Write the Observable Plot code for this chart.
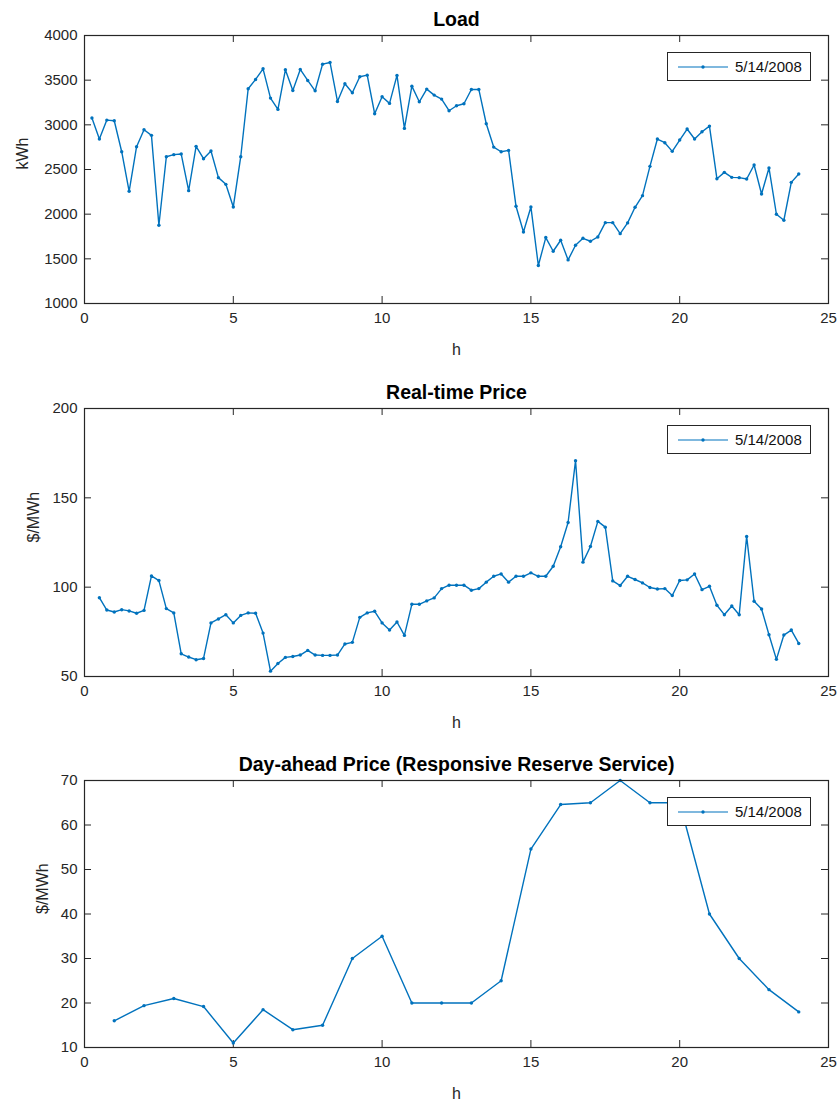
<!DOCTYPE html>
<html>
<head>
<meta charset="utf-8">
<script src="https://cdn.jsdelivr.net/npm/d3@7"></script>
<script src="https://cdn.jsdelivr.net/npm/@observablehq/plot@0.6"></script>
<style>
  body { margin: 0; background: #fff; font-family: "Liberation Sans", Arial, Helvetica, sans-serif; }
  #wrap { width: 838px; }
  .panel { position: relative; width: 838px; }
  .panel svg { display: block; }
  .legend {
    position: absolute; box-sizing: border-box; background: #fff;
    border: 1px solid #262626; width: 144px; height: 29px;
    display: flex; align-items: center; font-size: 15px; color: #111;
  }
  .legend svg { display: block; margin: 0 6px 0 9px; }
</style>
</head>
<body>
<div id="wrap"></div>
<script>
// Day: 5/14/2008
const legendLabel = "5/14/2008";

// Load, 15-minute samples from 0.25 h to 24 h (kWh)
const loadHours = d3.range(1, 97).map(i => i / 4);
const loadValues = [
  3076, 2841, 3053, 3046, 2699, 2256, 2755, 2945, 2882, 1876,
  2643, 2666, 2673, 2263, 2759, 2621, 2707, 2409, 2334, 2081,
  2643, 3404, 3508, 3627, 3299, 3173, 3616, 3385, 3620, 3497,
  3381, 3679, 3698, 3262, 3460, 3359, 3538, 3556, 3124, 3314,
  3240, 3553, 2960, 3433, 3258, 3400, 3333, 3288, 3158, 3214,
  3236, 3396, 3396, 3012, 2751, 2699, 2714, 2088, 1801, 2081,
  1425, 1738, 1585, 1708, 1488, 1652, 1730, 1697, 1745, 1905,
  1905, 1782, 1902, 2077, 2207, 2535, 2841, 2800, 2703, 2830,
  2953, 2841, 2923, 2986, 2397, 2468, 2412, 2409, 2394, 2550,
  2226, 2517, 1999, 1932, 2356, 2450
];

// Real-time price, 15-minute samples from 0.5 h to 24 h ($/MWh)
const rtHours = d3.range(2, 97).map(i => i / 4);
const rtValues = [
  94.1, 87.2, 86.1, 87.4, 86.7, 85.4, 87.0, 106.3, 103.7, 88.0,
  85.6, 62.7, 60.9, 59.4, 60.1, 80.0, 82.2, 84.6, 80.0, 84.2,
  85.6, 85.4, 74.3, 53.0, 57.3, 60.7, 61.2, 62.0, 64.6, 62.0,
  61.8, 61.8, 62.0, 68.2, 69.1, 83.1, 85.6, 86.5, 80.0, 76.0,
  80.5, 73.0, 90.4, 90.4, 92.3, 94.0, 99.2, 101.1, 101.1, 101.1,
  98.3, 99.2, 102.8, 106.1, 107.4, 102.8, 106.1, 106.1, 108.0, 106.1,
  106.1, 111.7, 122.6, 136.2, 170.8, 114.0, 122.8, 136.8, 133.6, 103.5,
  100.9, 106.1, 104.3, 102.4, 99.8, 99.0, 99.2, 95.3, 103.7, 104.1,
  107.4, 98.6, 100.5, 89.9, 84.6, 89.5, 84.6, 128.4, 92.1, 87.8,
  73.4, 59.6, 73.2, 76.0, 68.5
];

// Day-ahead price for Responsive Reserve Service, hourly ($/MWh)
const daHours = [1, 2, 3, 4, 5, 6, 7, 8, 9, 10, 11, 12, 13, 14, 15, 16, 17, 18, 19, 20, 21, 22, 23, 24];
const daValues = [16, 19.4, 21, 19.2, 11, 18.5, 14, 15, 30, 35, 20, 20, 20, 25, 54.6, 64.6, 65, 70, 65, 65, 40, 30, 23, 18];

// Tick values
const hourTicks = [0, 5, 10, 15, 20, 25];
const loadTicks = [1000, 1500, 2000, 2500, 3000, 3500, 4000];
const rtTicks = [50, 100, 150, 200];
const daTicks = [10, 20, 30, 40, 50, 60, 70];

const BLUE = "#0072BD";
const INK = "#262626";
const FONT = '"Liberation Sans", Arial, Helvetica, sans-serif';

function panel({title, ylabel, ylabelDx, xs, ys, yDomain, yTicks, height, marginTop, marginBottom}) {
  const W = 838, ml = 84, mr = 10, tick = 7;
  const fw = W - ml - mr, fh = height - marginTop - marginBottom;
  const data = xs.map((x, i) => ({x, y: ys[i]}));

  const svg = Plot.plot({
    width: W, height, marginLeft: ml, marginRight: mr, marginTop, marginBottom,
    style: {fontFamily: FONT, fontSize: "15px", color: INK, background: "#fff", overflow: "visible"},
    x: {domain: [0, 25], label: null},
    y: {domain: yDomain, label: null},
    marks: [
      Plot.axisX({ticks: hourTicks, tickFormat: d => String(d), tickSize: 0, tickPadding: 9, fontSize: 15, fill: INK}),
      Plot.axisY({ticks: yTicks, tickFormat: d => String(d), tickSize: 0, tickPadding: 7, fontSize: 15, fill: INK}),
      // inward tick marks on all four sides
      Plot.ruleX(hourTicks, {x: d => d, insetTop: fh - tick, stroke: INK, strokeWidth: 1}),
      Plot.ruleX(hourTicks, {x: d => d, insetBottom: fh - tick, stroke: INK, strokeWidth: 1}),
      Plot.ruleY(yTicks, {y: d => d, insetRight: fw - tick, stroke: INK, strokeWidth: 1}),
      Plot.ruleY(yTicks, {y: d => d, insetLeft: fw - tick, stroke: INK, strokeWidth: 1}),
      Plot.line(data, {x: "x", y: "y", stroke: BLUE, strokeWidth: 1.4}),
      Plot.dot(data, {x: "x", y: "y", r: 1.7, fill: BLUE, stroke: null}),
      Plot.frame({stroke: INK, strokeWidth: 1.2}),
      Plot.text([title], {text: d => d, frameAnchor: "top", lineAnchor: "middle", dy: -16, fontWeight: "bold", fontSize: 19.5, fill: "#000"}),
      Plot.text([ylabel], {text: d => d, frameAnchor: "left", dx: ylabelDx, rotate: -90, fontSize: 16, fill: INK}),
      Plot.text(["h"], {text: d => d, frameAnchor: "bottom", lineAnchor: "middle", dy: 46, fontSize: 16, fill: INK})
    ]
  });

  const div = document.createElement("div");
  div.className = "panel";
  div.style.height = height + "px";
  div.appendChild(svg);

  const legend = document.createElement("div");
  legend.className = "legend";
  legend.style.left = "667px";
  legend.style.top = (marginTop + 17) + "px";
  legend.innerHTML =
    `<svg width="52" height="10"><line x1="1" x2="51" y1="5" y2="5" stroke="${BLUE}" stroke-width="1.2"/>` +
    `<circle cx="26" cy="5" r="1.7" fill="${BLUE}"/></svg><span>${legendLabel}</span>`;
  div.appendChild(legend);
  return div;
}

const wrap = document.getElementById("wrap");
wrap.appendChild(panel({
  title: "Load", ylabel: "kWh", ylabelDx: -62,
  xs: loadHours, ys: loadValues, yDomain: [1000, 4000], yTicks: loadTicks,
  height: 373, marginTop: 35, marginBottom: 70
}));
wrap.appendChild(panel({
  title: "Real-time Price", ylabel: "$/MWh", ylabelDx: -51,
  xs: rtHours, ys: rtValues, yDomain: [50, 200], yTicks: rtTicks,
  height: 372, marginTop: 35, marginBottom: 69
}));
wrap.appendChild(panel({
  title: "Day-ahead Price (Responsive Reserve Service)", ylabel: "$/MWh", ylabelDx: -42,
  xs: daHours, ys: daValues, yDomain: [10, 70], yTicks: daTicks,
  height: 357, marginTop: 35, marginBottom: 55
}));
</script>
</body>
</html>
